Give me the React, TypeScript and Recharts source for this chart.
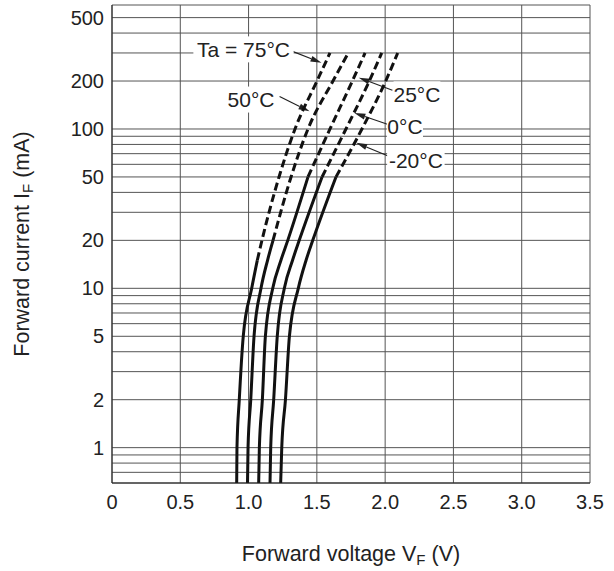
import React from "react";
import {
  CartesianGrid,
  Label,
  Line,
  LineChart,
  ReferenceDot,
  ReferenceLine,
  XAxis,
  YAxis,
} from "recharts";

// forward current levels (mA)
const currents = [0.6, 1, 2, 5, 10, 15, 20, 50, 100, 200, 300];

// forward voltage (V) at each current, one list per ambient temperature
const vf75 = [0.913, 0.915, 0.932, 0.961, 1.023, 1.064, 1.098, 1.223, 1.34, 1.501, 1.596];
const vf50 = [0.992, 0.996, 1.016, 1.04, 1.091, 1.139, 1.179, 1.311, 1.435, 1.618, 1.73];
const vf25 = [1.074, 1.079, 1.101, 1.123, 1.177, 1.237, 1.287, 1.435, 1.596, 1.76, 1.853];
const vf0 = [1.157, 1.162, 1.184, 1.21, 1.262, 1.322, 1.371, 1.538, 1.713, 1.884, 1.975];
const vfMinus20 = [1.235, 1.243, 1.27, 1.299, 1.364, 1.421, 1.47, 1.64, 1.83, 2.004, 2.092];

const temps = ["75", "50", "25", "0", "-20"];
// above this current the curve is drawn dashed
const dashFrom = [15, 20, 50, 50, 50];

const xTicks = [0, 0.5, 1, 1.5, 2, 2.5, 3, 3.5];
const xTickLabels = ["0", "0.5", "1.0", "1.5", "2.0", "2.5", "3.0", "3.5"];
const yTicks = [
  0.6, 0.7, 0.8, 0.9, 1, 2, 3, 4, 5, 6, 7, 8, 9, 10, 20, 30, 40, 50, 60, 70, 80, 90,
  100, 200, 300, 400, 500, 600,
];
const yTickLabels = [1, 2, 5, 10, 20, 50, 100, 200, 500];

// annotation text, label position and arrow (from -> tip), in V / mA
const notes = [
  { text: "Ta = 75°C", v: 0.963, i: 316, from: [1.322, 307], tip: [1.534, 260] },
  { text: "50°C", v: 1.018, i: 153, from: [1.227, 160], tip: [1.446, 129] },
  { text: "25°C", v: 2.233, i: 165, from: [2.053, 175], tip: [1.807, 210] },
  { text: "0°C", v: 2.145, i: 104, from: [2.017, 107], tip: [1.775, 126] },
  { text: "-20°C", v: 2.225, i: 63.4, from: [2.031, 67.2], tip: [1.788, 81.9] },
];

const vfs = [vf75, vf50, vf25, vf0, vfMinus20];
const series = vfs.map((vf, k) => {
  const pts = currents.map((c, j) => ({ v: vf[j], i: c }));
  return {
    name: temps[k],
    solid: pts.filter((p) => p.i <= dashFrom[k]),
    dashed: pts.filter((p) => p.i >= dashFrom[k]),
  };
});

const FONT = "'Liberation Sans', Arial, Helvetica, sans-serif";
const INK = "#222";
const TICK_FS = 20;
const NOTE_FS = 21;
const TITLE_FS = 21.5;

function NoteBox(props: any) {
  const { cx, cy, text } = props;
  const w = text.length * 10.7 + 4;
  return (
    <g>
      <rect x={cx - w / 2} y={cy - 13} width={w} height={26} fill="#fff" />
      <text
        x={cx}
        y={cy}
        dy="0.36em"
        textAnchor="middle"
        fontSize={NOTE_FS}
        fontFamily={FONT}
        fill={INK}
      >
        {text}
      </text>
    </g>
  );
}

function Arrow(props: any) {
  const { x1, y1, x2, y2 } = props;
  const dx = x2 - x1;
  const dy = y2 - y1;
  const len = Math.sqrt(dx * dx + dy * dy) || 1;
  const ux = dx / len;
  const uy = dy / len;
  const hl = 11;
  const hw = 3;
  const bx = x2 - ux * hl;
  const by = y2 - uy * hl;
  return (
    <g>
      <line x1={x1} y1={y1} x2={bx} y2={by} stroke={INK} strokeWidth={1.2} />
      <polygon
        points={`${x2},${y2} ${bx - uy * hw},${by + ux * hw} ${bx + uy * hw},${by - ux * hw}`}
        fill={INK}
      />
    </g>
  );
}

function XTitle(props: any) {
  const vb = props.viewBox || { x: 112, y: 483, width: 478, height: 88 };
  return (
    <text
      x={vb.x + vb.width / 2}
      y={vb.y + 78}
      textAnchor="middle"
      fontSize={TITLE_FS}
      fontFamily={FONT}
      fill={INK}
    >
      Forward voltage V
      <tspan fontSize={15} dy={4}>F</tspan>
      <tspan dy={-4}> (V)</tspan>
    </text>
  );
}

function YTitle(props: any) {
  const vb = props.viewBox || { x: 0, y: 5, width: 112, height: 478 };
  const cx = 29;
  const cy = vb.y + vb.height / 2;
  return (
    <text
      x={cx}
      y={cy}
      transform={`rotate(-90, ${cx}, ${cy})`}
      textAnchor="middle"
      fontSize={TITLE_FS}
      fontFamily={FONT}
      fill={INK}
    >
      Forward current I
      <tspan fontSize={15} dy={4}>F</tspan>
      <tspan dy={-4}> (mA)</tspan>
    </text>
  );
}

export default function App() {
  return (
    <div
      style={{
        position: "absolute",
        left: 0,
        top: 0,
        width: 614,
        height: 571,
        background: "#fff",
        fontFamily: FONT,
      }}
    >
      <LineChart width={614} height={571} margin={{ top: 5, right: 24, bottom: 0, left: 0 }}>
        <CartesianGrid stroke="#555" strokeWidth={1} fill="none" />
        <XAxis
          type="number"
          dataKey="v"
          domain={[0, 3.5]}
          ticks={xTicks}
          interval={0}
          allowDataOverflow
          height={88}
          tickLine={false}
          tickSize={0}
          tickMargin={12}
          stroke="#222"
          tick={{ fontSize: TICK_FS, fill: INK, fontFamily: FONT }}
          tickFormatter={(v: number) => xTickLabels[xTicks.indexOf(v)] ?? ""}
        >
          <Label content={(p: any) => <XTitle {...p} />} />
        </XAxis>
        <YAxis
          type="number"
          dataKey="i"
          scale="log"
          domain={[0.6, 600]}
          ticks={yTicks}
          interval={0}
          allowDataOverflow
          width={112}
          tickLine={false}
          tickSize={0}
          tickMargin={8}
          stroke="#222"
          tick={{ fontSize: TICK_FS, fill: INK, fontFamily: FONT }}
          tickFormatter={(v: number) => (yTickLabels.includes(v) ? String(v) : "")}
        >
          <Label content={(p: any) => <YTitle {...p} />} />
        </YAxis>

        {notes.map((n) => (
          <ReferenceDot
            key={"box" + n.text}
            x={n.v}
            y={n.i}
            r={1}
            shape={(p: any) => <NoteBox cx={p.cx} cy={p.cy} text={n.text} />}
          />
        ))}
        {notes.map((n) => (
          <ReferenceLine
            key={"arr" + n.text}
            segment={[
              { x: n.from[0], y: n.from[1] },
              { x: n.tip[0], y: n.tip[1] },
            ]}
            shape={(p: any) => <Arrow {...p} />}
          />
        ))}

        {series.map((s) => (
          <Line
            key={"s" + s.name}
            data={s.solid}
            dataKey="i"
            type="monotone"
            stroke="#111"
            strokeWidth={3}
            dot={false}
            activeDot={false}
            legendType="none"
            isAnimationActive={false}
          />
        ))}
        {series.map((s) => (
          <Line
            key={"d" + s.name}
            data={s.dashed}
            dataKey="i"
            type="monotone"
            stroke="#111"
            strokeWidth={3}
            strokeDasharray="8 4"
            dot={false}
            activeDot={false}
            legendType="none"
            isAnimationActive={false}
          />
        ))}
      </LineChart>
    </div>
  );
}
